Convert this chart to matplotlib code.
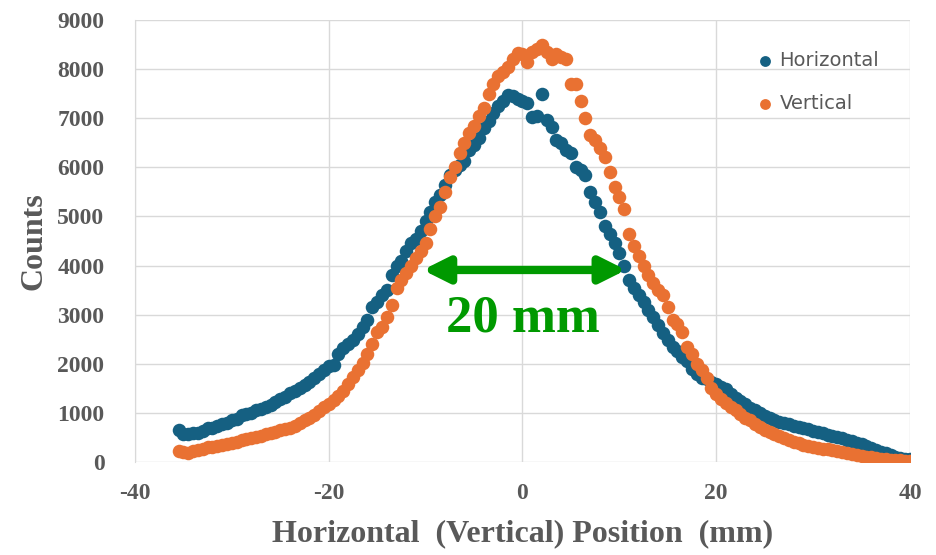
"""Scan profile of counts across the beam, horizontal vs vertical."""

import numpy as np
import matplotlib.pyplot as plt

# scan positions (mm), 0.5 mm steps
position_mm = [
    -35.5, -35.0, -34.5, -34.0, -33.5, -33.0, -32.5, -32.0, -31.5, -31.0,
    -30.5, -30.0, -29.5, -29.0, -28.5, -28.0, -27.5, -27.0, -26.5, -26.0,
    -25.5, -25.0, -24.5, -24.0, -23.5, -23.0, -22.5, -22.0, -21.5, -21.0,
    -20.5, -20.0, -19.5, -19.0, -18.5, -18.0, -17.5, -17.0, -16.5, -16.0,
    -15.5, -15.0, -14.5, -14.0, -13.5, -13.0, -12.5, -12.0, -11.5, -11.0,
    -10.5, -10.0, -9.5, -9.0, -8.5, -8.0, -7.5, -7.0, -6.5, -6.0,
    -5.5, -5.0, -4.5, -4.0, -3.5, -3.0, -2.5, -2.0, -1.5, -1.0,
    -0.5, 0.0, 0.5, 1.0, 1.5, 2.0, 2.5, 3.0, 3.5, 4.0,
    4.5, 5.0, 5.5, 6.0, 6.5, 7.0, 7.5, 8.0, 8.5, 9.0,
    9.5, 10.0, 10.5, 11.0, 11.5, 12.0, 12.5, 13.0, 13.5, 14.0,
    14.5, 15.0, 15.5, 16.0, 16.5, 17.0, 17.5, 18.0, 18.5, 19.0,
    19.5, 20.0, 20.5, 21.0, 21.5, 22.0, 22.5, 23.0, 23.5, 24.0,
    24.5, 25.0, 25.5, 26.0, 26.5, 27.0, 27.5, 28.0, 28.5, 29.0,
    29.5, 30.0, 30.5, 31.0, 31.5, 32.0, 32.5, 33.0, 33.5, 34.0,
    34.5, 35.0, 35.5, 36.0, 36.5, 37.0, 37.5, 38.0, 38.5, 39.0,
    39.5, 40.0,
]

horizontal_counts = [
    650, 560, 570, 590, 600, 640, 700, 690, 740, 780,
    800, 850, 880, 950, 970, 1000, 1050, 1080, 1120, 1160,
    1220, 1280, 1330, 1400, 1440, 1500, 1560, 1630, 1720, 1800,
    1880, 1950, 1980, 2200, 2320, 2400, 2480, 2600, 2750, 2900,
    3160, 3250, 3400, 3500, 3800, 4000, 4100, 4300, 4450, 4550,
    4700, 4900, 5100, 5300, 5440, 5650, 5850, 5950, 6050, 6130,
    6350, 6450, 6600, 6800, 6950, 7100, 7240, 7350, 7480, 7450,
    7400, 7350, 7300, 7030, 7050, 7500, 6970, 6830, 6560, 6500,
    6350, 6300, 6010, 5950, 5850, 5500, 5300, 5100, 4800, 4650,
    4450, 4250, 4000, 3700, 3550, 3400, 3250, 3100, 2950, 2780,
    2620, 2480, 2350, 2250, 2130, 2050, 1900, 1800, 1720, 1680,
    1620, 1580, 1530, 1480, 1380, 1300, 1250, 1180, 1100, 1050,
    990, 930, 890, 850, 820, 800, 770, 740, 720, 700,
    670, 640, 610, 590, 550, 520, 500, 480, 450, 420,
    390, 360, 320, 290, 250, 210, 175, 140, 110, 80,
    70, 60,
]

vertical_counts = [
    220, 200, 190, 230, 250, 270, 300, 310, 330, 350,
    370, 390, 410, 440, 460, 480, 500, 520, 560, 590,
    610, 650, 680, 700, 740, 790, 850, 900, 960, 1040,
    1120, 1180, 1260, 1350, 1450, 1580, 1740, 1880, 2020, 2200,
    2400, 2650, 2750, 2950, 3200, 3550, 3700, 3850, 4000, 4150,
    4300, 4450, 4750, 5000, 5200, 5500, 5800, 6000, 6300, 6500,
    6690, 6850, 7050, 7200, 7500, 7700, 7850, 7950, 8050, 8200,
    8320, 8300, 8150, 8350, 8400, 8500, 8350, 8200, 8300, 8250,
    8200, 7700, 7700, 7350, 7000, 6650, 6550, 6400, 6220, 5900,
    5600, 5400, 5150, 4650, 4400, 4200, 4000, 3800, 3650, 3500,
    3400, 3150, 2900, 2800, 2650, 2350, 2200, 2000, 1880, 1700,
    1500, 1380, 1290, 1200, 1120, 1050, 980, 900, 850, 780,
    720, 660, 610, 560, 520, 480, 450, 410, 380, 350,
    330, 310, 290, 270, 260, 245, 230, 210, 190, 170,
    150, 130, 110, 100, 90, 70, 60, 50, 40, 35,
    30, 30,
]

# FWHM annotation
fwhm_left = -10.3
fwhm_right = 10.7
fwhm_level = 3910

grey = "#595959"
serif = ["Liberation Serif", "DejaVu Serif"]
plt.rcParams["axes.unicode_minus"] = False

fig = plt.figure(figsize=(9.36, 5.55), dpi=100)
ax = fig.add_axes([0.1442, 0.1676, 0.8280, 0.7964])

ax.scatter(position_mm, horizontal_counts, s=95, color="#156082",
           label="Horizontal", zorder=3, linewidths=0)
ax.scatter(position_mm, vertical_counts, s=95, color="#E97132",
           label="Vertical", zorder=3, linewidths=0)

ax.annotate("", xy=(fwhm_left, fwhm_level), xytext=(fwhm_right, fwhm_level),
            arrowprops=dict(arrowstyle="<|-|>", color="#009900", lw=6,
                            mutation_scale=38, shrinkA=0, shrinkB=0),
            zorder=5)
ax.text(0, 2930, "20 mm", color="#009900", ha="center", va="center",
        fontsize=38, fontweight="bold", family=serif, zorder=5)

ax.set_xlim(-40, 40)
ax.set_ylim(0, 9000)
ax.set_xticks([-40, -20, 0, 20, 40])
ax.set_yticks(np.arange(0, 9001, 1000))
ax.grid(True, color="#d9d9d9", linewidth=1)
ax.set_axisbelow(True)
for side in ["top", "right", "bottom"]:
    ax.spines[side].set_visible(False)
ax.spines["left"].set_color("#d9d9d9")
ax.tick_params(axis="y", length=0, colors=grey, labelsize=17, pad=22)
ax.tick_params(axis="x", length=0, colors=grey, labelsize=17, pad=15)
for lab in ax.get_xticklabels() + ax.get_yticklabels():
    lab.set_family(serif)
    lab.set_fontweight("bold")

ax.set_xlabel("Horizontal  (Vertical) Position  (mm)", fontsize=23,
              fontweight="bold", family=serif, color=grey, labelpad=11)
ax.set_ylabel("Counts", fontsize=23, fontweight="bold", family=serif,
              color=grey, labelpad=6)

ax.legend(loc="center left", bbox_to_anchor=(0.765, 0.86), frameon=False,
          labelcolor=grey, handletextpad=-0.25, labelspacing=1.25,
          markerscale=0.8, prop={"family": "DejaVu Sans", "size": 14})

fig.savefig("out.png", dpi=100)
